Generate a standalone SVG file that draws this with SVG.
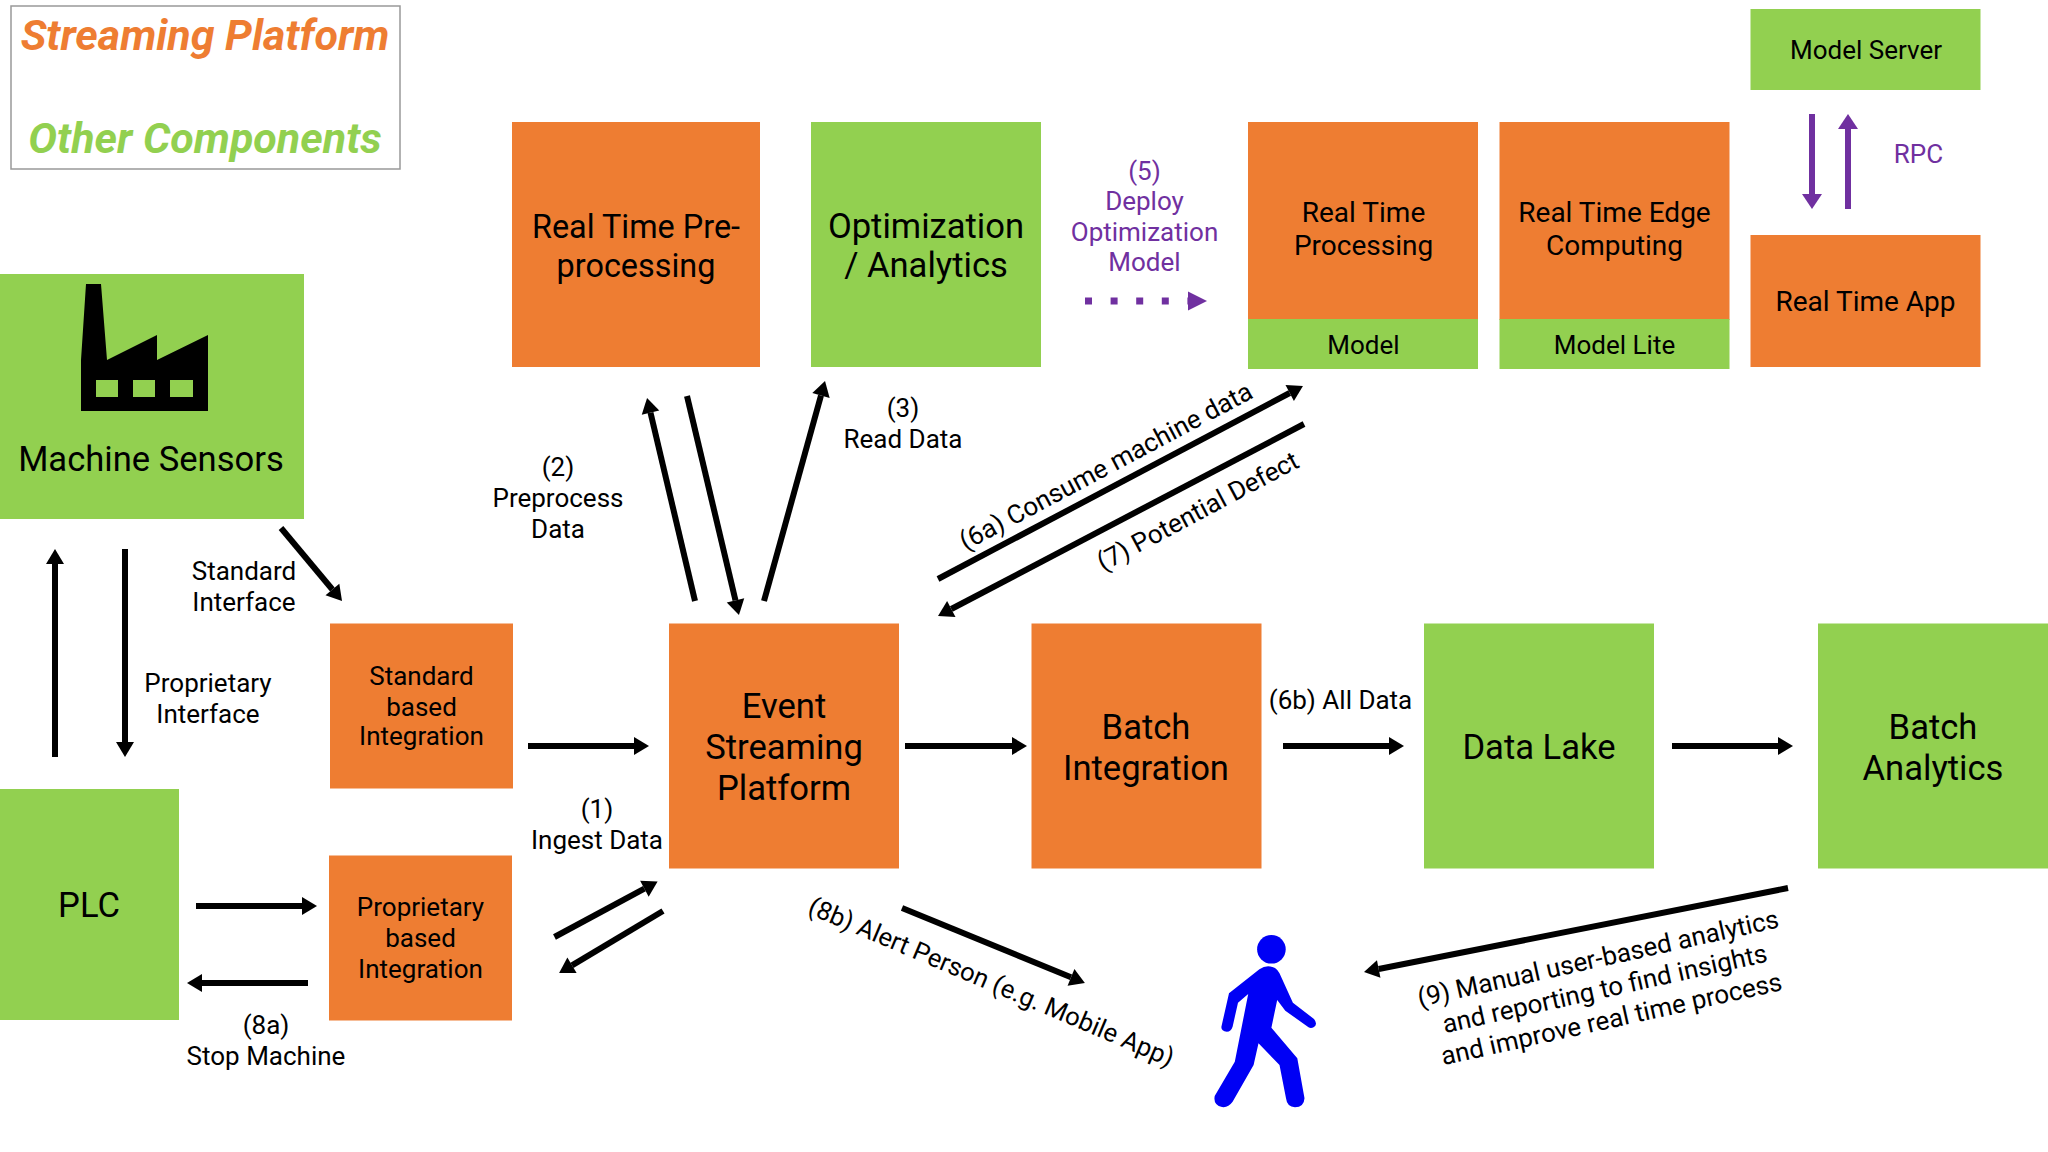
<svg xmlns="http://www.w3.org/2000/svg" width="2048" height="1152" viewBox="0 0 2048 1152">
<style>
text{font-family:Roboto,"Liberation Sans",sans-serif;text-anchor:middle;fill:#000}
.o{fill:#EE7D32}.g{fill:#92D050}
.xl{font-size:34.6px}.l{font-size:28px}.m{font-size:26px}.s{font-size:26px}
.c line{stroke:#000;stroke-width:6;marker-end:url(#a)}
.c line.pu{stroke:#7030A0;marker-end:url(#b)}
.leg{font-size:43px;font-weight:700;font-style:italic}
</style>
<defs>
<marker id="a" markerUnits="userSpaceOnUse" markerWidth="16" markerHeight="18" refX="0" refY="9" orient="auto" overflow="visible"><path d="M0,0L15,9L0,18Z" fill="#000"/></marker>
<marker id="b" markerUnits="userSpaceOnUse" markerWidth="16" markerHeight="20" refX="0" refY="10" orient="auto" overflow="visible"><path d="M0,0L15,10L0,20Z" fill="#7030A0"/></marker>
<marker id="d" markerUnits="userSpaceOnUse" markerWidth="20" markerHeight="19" refX="0" refY="9.5" orient="auto" overflow="visible"><path d="M0,0L19,9.5L0,19Z" fill="#7030A0"/></marker>
</defs>
<rect width="2048" height="1152" fill="#fff"/>
<g id="legend">
<rect x="11" y="6" width="389" height="163" fill="#fff" stroke="#999" stroke-width="1.5"/>
<text class="leg" x="205" y="50" style="fill:#EE7D32">Streaming Platform</text>
<text class="leg" x="205" y="153" style="fill:#92D050">Other Components</text>
</g>
<g id="machine-sensors">
<rect class="g" x="0" y="274" width="304" height="245"/>
<path d="M86,284H101L107,360L157,335V360L208,335V411H81V360ZM96,380V397H118V380ZM133,380V397H155V380ZM170,380V397H193V380Z" fill-rule="evenodd" fill="#000"/>
<text class="xl" x="151" y="471">Machine Sensors</text>
</g>
<g id="plc"><rect class="g" x="0" y="789" width="179" height="231"/><text class="xl" x="89" y="917">PLC</text></g>
<g id="standard-integration"><rect class="o" x="330" y="623.5" width="183" height="165"/><text class="s" x="421.5"><tspan x="421.5" y="685">Standard</tspan><tspan x="421.5" y="716">based</tspan><tspan x="421.5" y="745">Integration</tspan></text></g>
<g id="proprietary-integration"><rect class="o" x="329" y="855.5" width="183" height="165"/><text class="s"><tspan x="420.5" y="916">Proprietary</tspan><tspan x="420.5" y="947">based</tspan><tspan x="420.5" y="978">Integration</tspan></text></g>
<g id="preprocessing"><rect class="o" x="512" y="122" width="248" height="245"/><text class="xl" style="font-size:32.4px"><tspan x="636" y="238">Real Time Pre-</tspan><tspan x="636" y="277">processing</tspan></text></g>
<g id="optimization"><rect class="g" x="811" y="122" width="230" height="245"/><text class="xl"><tspan x="926" y="238">Optimization</tspan><tspan x="926" y="277">/ Analytics</tspan></text></g>
<g id="rt-processing"><rect class="o" x="1248" y="122" width="230" height="198"/><rect class="g" x="1248" y="319" width="230" height="50"/><text class="l"><tspan x="1363.5" y="222">Real Time</tspan><tspan x="1363.5" y="255">Processing</tspan></text><text class="m" x="1363.5" y="354">Model</text></g>
<g id="rt-edge"><rect class="o" x="1499.5" y="122" width="230" height="198"/><rect class="g" x="1499.5" y="319" width="230" height="50"/><text class="l"><tspan x="1614.5" y="222">Real Time Edge</tspan><tspan x="1614.5" y="255">Computing</tspan></text><text class="m" x="1614.5" y="354">Model Lite</text></g>
<g id="model-server"><rect class="g" x="1750.5" y="9" width="230" height="81"/><text class="m" x="1866" y="59">Model Server</text></g>
<g id="rt-app"><rect class="o" x="1750.5" y="235" width="230" height="132"/><text class="l" x="1865.5" y="311">Real Time App</text></g>
<g id="esp"><rect class="o" x="669" y="623.5" width="230" height="245"/><text class="xl"><tspan x="784" y="718">Event</tspan><tspan x="784" y="759">Streaming</tspan><tspan x="784" y="800">Platform</tspan></text></g>
<g id="batch-integration"><rect class="o" x="1031.5" y="623.5" width="230" height="245"/><text class="xl"><tspan x="1146" y="739">Batch</tspan><tspan x="1146" y="780">Integration</tspan></text></g>
<g id="data-lake"><rect class="g" x="1424" y="623.5" width="230" height="245"/><text class="xl" x="1539" y="759">Data Lake</text></g>
<g id="batch-analytics"><rect class="g" x="1818" y="623.5" width="230" height="245"/><text class="xl"><tspan x="1933" y="739">Batch</tspan><tspan x="1933" y="780">Analytics</tspan></text></g>
<g id="person" fill="#0000F5">
<ellipse cx="1271.4" cy="949.3" rx="14.3" ry="14.3"/>
<path d="M1259.4,969.3Q1267,964 1275,968Q1278,970 1279.5,973.3L1292.9,1002.7L1314,1019Q1318,1024 1314,1027Q1311,1029 1308.5,1027.3L1285.3,1010.7L1277.2,1000L1271.4,1027.7L1297.3,1058.3L1304.5,1098.3Q1304,1107.3 1295,1107.3Q1287,1107 1286,1098.3L1279.5,1065L1258.5,1043.3L1253.6,1065L1232.6,1101.7Q1228,1108 1222,1107Q1213,1105 1214.7,1096L1234.8,1061.7L1248.2,994L1238,1002.7L1232.6,1026.7Q1231,1031.7 1226.8,1031.7Q1221,1031 1221.4,1026.7L1229,993.3Z"/>
</g>
<g id="connectors" class="c">
<line x1="55" y1="757" x2="55" y2="564"/>
<line x1="125" y1="549" x2="125" y2="742"/>
<line x1="281" y1="528" x2="332.4" y2="589.5"/>
<line x1="196" y1="906" x2="302" y2="906"/>
<line x1="308" y1="983" x2="202" y2="983"/>
<line x1="528" y1="746" x2="634" y2="746"/>
<line x1="905" y1="746" x2="1012" y2="746"/>
<line x1="1283" y1="746" x2="1389" y2="746"/>
<line x1="1672" y1="746" x2="1778" y2="746"/>
<line x1="695" y1="601" x2="650.5" y2="412.6"/>
<line x1="687" y1="396" x2="735.5" y2="600.4"/>
<line x1="764" y1="601" x2="821" y2="395.5"/>
<line x1="938" y1="579" x2="1289.7" y2="393"/>
<line x1="1304" y1="424" x2="951.3" y2="609"/>
<line x1="554.5" y1="937" x2="644.4" y2="888.7"/>
<line x1="663" y1="911" x2="572" y2="965.3"/>
<line x1="902" y1="908" x2="1071" y2="977.3"/>
<line x1="1788" y1="888" x2="1378.7" y2="969"/>
<line class="pu" x1="1812" y1="114" x2="1812" y2="194"/>
<line class="pu" x1="1848" y1="209" x2="1848" y2="129"/>
<path d="M1085,301H1188" stroke="#7030A0" stroke-width="7" stroke-dasharray="7 18.6" fill="none" marker-end="url(#d)"/>
</g>
<g id="labels">
<text class="s" style="fill:#7030A0"><tspan x="1144.5" y="180">(5)</tspan><tspan x="1144.5" y="210">Deploy</tspan><tspan x="1144.5" y="241">Optimization</tspan><tspan x="1144.5" y="271">Model</tspan></text>
<text class="s" x="1918.5" y="163" style="fill:#7030A0">RPC</text>
<text class="s"><tspan x="558" y="476">(2)</tspan><tspan x="558" y="507">Preprocess</tspan><tspan x="558" y="538">Data</tspan></text>
<text class="s"><tspan x="903" y="417">(3)</tspan><tspan x="903" y="448">Read Data</tspan></text>
<text class="s"><tspan x="244" y="580">Standard</tspan><tspan x="244" y="611">Interface</tspan></text>
<text class="s"><tspan x="208" y="692">Proprietary</tspan><tspan x="208" y="723">Interface</tspan></text>
<text class="s"><tspan x="597" y="818">(1)</tspan><tspan x="597" y="849">Ingest Data</tspan></text>
<text class="s"><tspan x="266" y="1034">(8a)</tspan><tspan x="266" y="1065">Stop Machine</tspan></text>
<text class="s" x="1340.5" y="709">(6b) All Data</text>
<text class="s" transform="translate(1110,474) rotate(-28)">(6a) Consume machine data</text>
<text class="s" transform="translate(1202,519) rotate(-28)">(7) Potential Defect</text>
<text class="s" transform="translate(988,990) rotate(23)" style="font-size:25.6px">(8b) Alert Person (e.g. Mobile App)</text>
<text class="s" transform="translate(1605,990) rotate(-12.5)"><tspan x="0" y="-23.5">(9) Manual user-based analytics</tspan><tspan x="0" y="7.5">and reporting to find insights</tspan><tspan x="0" y="38.5">and improve real time process</tspan></text>
</g>
</svg>
